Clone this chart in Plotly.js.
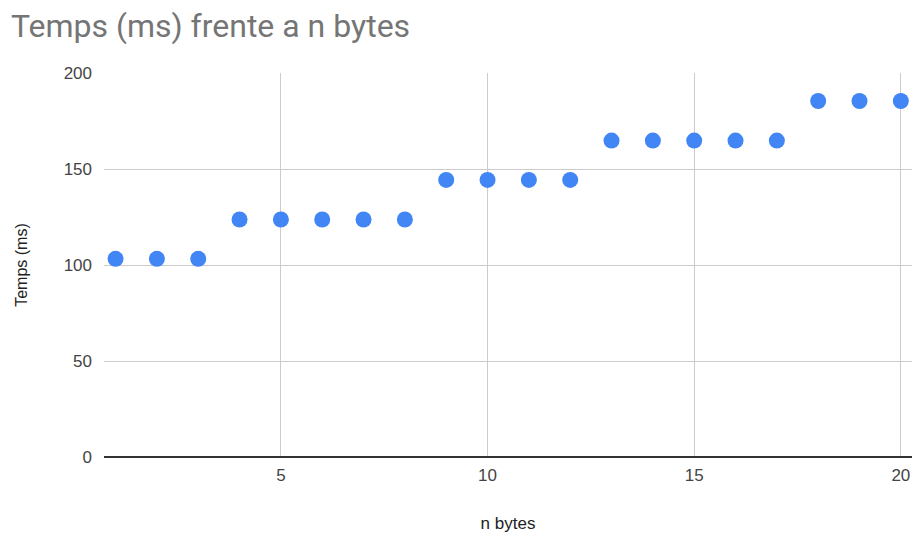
<!DOCTYPE html>
<html>
<head>
<meta charset="utf-8">
<script src="https://cdn.plot.ly/plotly-3.0.1.min.js"></script>
<style>html,body{margin:0;padding:0;background:#fff;}#chart{width:915px;height:539px;}</style>
</head>
<body>
<div id="chart"></div>
<script>
const nBytes = [1,2,3,4,5,6,7,8,9,10,11,12,13,14,15,16,17,18,19,20];
const tempsMs = [103.2,103.2,103.2,123.7,123.7,123.7,123.7,123.7,144.3,144.3,144.3,144.3,164.8,164.8,164.8,164.8,164.8,185.4,185.4,185.4];
const xTicks = [5,10,15,20];
const yTicks = [0,50,100,150,200];

const trace = {
  x: nBytes, y: tempsMs, type: 'scatter', mode: 'markers',
  marker: {color: '#4285F4', size: 16}, cliponaxis: false, hoverinfo: 'x+y'
};
const layout = {
  width: 915, height: 539,
  margin: {l: 104, r: 3, t: 73, b: 82},
  paper_bgcolor: '#fff', plot_bgcolor: '#fff',
  title: {text: 'Temps (ms) frente a n bytes', x: 0.012, xanchor: 'left', y: 0.953, yanchor: 'middle',
          font: {family: 'Roboto, Arial, sans-serif', size: 32, color: '#757575'}},
  showlegend: false,
  font: {family: 'Arial, Liberation Sans, sans-serif'},
  xaxis: {
    range: [0.72, 20.27], tickvals: xTicks, ticktext: xTicks.map(String),
    showgrid: true, gridcolor: '#cccccc', gridwidth: 1, zeroline: false,
    showline: false, ticks: '', ticklabelstandoff: 6, tickfont: {size: 17, color: '#444'},
    title: {text: 'n bytes', standoff: 33, font: {size: 17, color: '#222'}}
  },
  yaxis: {
    range: [0, 200], tickvals: yTicks, ticktext: yTicks.map(String),
    showgrid: true, gridcolor: '#cccccc', gridwidth: 1,
    zeroline: true, zerolinecolor: '#333', zerolinewidth: 1.5,
    showline: false, ticks: '', ticklen: 0, ticklabelstandoff: 11, tickfont: {size: 17, color: '#444'},
    title: {text: 'Temps (ms)', standoff: 32, font: {size: 16, color: '#222'}}
  }
};
Plotly.newPlot('chart', [trace], layout, {displayModeBar: false, staticPlot: true});
</script>
</body>
</html>
